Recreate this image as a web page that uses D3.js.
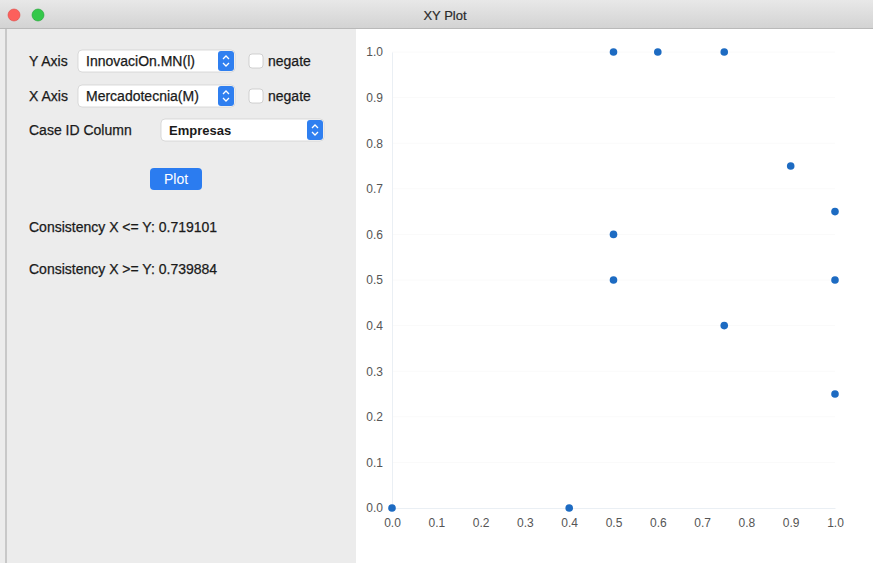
<!DOCTYPE html>
<html><head><meta charset="utf-8">
<script src="https://cdn.jsdelivr.net/npm/d3@7"></script>
<style>
html,body{margin:0;padding:0;background:#fff;overflow:hidden}
svg{display:block;font-family:"Liberation Sans",Arial,Helvetica,sans-serif}
</style></head>
<body>
<svg id="c" width="873" height="563"></svg>
<script>
// ---- data ----
const xValues = [0.0, 0.4, 0.5, 0.6, 0.75, 0.9, 1.0, 0.5, 0.5, 1.0, 0.75, 1.0];
const yValues = [0.0, 0.0, 1.0, 1.0, 1.0, 0.75, 0.65, 0.6, 0.5, 0.5, 0.4, 0.25];
const xTicks = [0.0,0.1,0.2,0.3,0.4,0.5,0.6,0.7,0.8,0.9,1.0];
const yTicks = [0.0,0.1,0.2,0.3,0.4,0.5,0.6,0.7,0.8,0.9,1.0];
const yAxisField = "InnovaciOn.MN(l)";
const xAxisField = "Mercadotecnia(M)";
const caseIdField = "Empresas";
const consistencyLabels = ["Consistency X <= Y: 0.719101", "Consistency X >= Y: 0.739884"];
const windowTitle = "XY Plot";

const svg = d3.select("#c");
const W = 873, H = 563;

svg.append("rect").attr("x",0).attr("y",0).attr("width",W).attr("height",H).attr("fill","#ffffff");

// left panel
svg.append("rect").attr("x",0).attr("y",28).attr("width",356).attr("height",H-28).attr("fill","#ececec");
svg.append("rect").attr("x",5).attr("y",28).attr("width",2).attr("height",H-28).attr("fill","#c8c8c8");

// title bar
const grad = svg.append("defs").append("linearGradient").attr("id","tb").attr("x1",0).attr("y1",0).attr("x2",0).attr("y2",1);
grad.append("stop").attr("offset","0%").attr("stop-color","#e8e8e8");
grad.append("stop").attr("offset","100%").attr("stop-color","#d3d3d3");
svg.append("rect").attr("x",0).attr("y",0).attr("width",W).attr("height",28).attr("fill","url(#tb)");
svg.append("line").attr("x1",0).attr("x2",W).attr("y1",28.5).attr("y2",28.5).attr("stroke","#b9b9b9");
svg.append("circle").attr("cx",14).attr("cy",15).attr("r",6).attr("fill","#fc605c").attr("stroke","#de4a46").attr("stroke-width",0.6);
svg.append("circle").attr("cx",38).attr("cy",15).attr("r",6).attr("fill","#34c84a").attr("stroke","#22a336").attr("stroke-width",0.6);
svg.append("text").attr("x",445).attr("y",20).attr("text-anchor","middle").attr("font-size",13)
  .attr("fill","#2a2a2a").attr("stroke","#2a2a2a").attr("stroke-width",0.2).text(windowTitle);

// controls
const labelStyle = s => s.attr("font-size",14).attr("fill","#1a1a1a").attr("stroke","#1a1a1a").attr("stroke-width",0.25);
function popup(x,y,w,h,txt,bold){
  const g = svg.append("g");
  g.append("rect").attr("x",x).attr("y",y).attr("width",w).attr("height",h).attr("rx",4)
    .attr("fill","#ffffff").attr("stroke","#d2d2d2").attr("stroke-width",0.8);
  g.append("rect").attr("x",x+w-17).attr("y",y+1).attr("width",16).attr("height",h-2).attr("rx",3).attr("fill","#2f7ff0");
  const cx = x+w-9, cy = y+h/2;
  g.append("path").attr("d",`M${cx-3},${cy-2} L${cx},${cy-5} L${cx+3},${cy-2} M${cx-3},${cy+2} L${cx},${cy+5} L${cx+3},${cy+2}`)
    .attr("fill","none").attr("stroke","#fff").attr("stroke-width",1.3);
  const t = g.append("text").attr("x",x+8).attr("y",y+h/2+5).attr("font-size",bold?13:14).attr("fill","#1a1a1a")
    .attr("font-weight",bold?"bold":"normal").text(txt);
  if(!bold) t.attr("stroke","#1a1a1a").attr("stroke-width",0.25);
}
function checkbox(x,y,lbl){
  svg.append("rect").attr("x",x).attr("y",y).attr("width",14).attr("height",14).attr("rx",3)
    .attr("fill","#fff").attr("stroke","#c6c6c6").attr("stroke-width",0.8);
  labelStyle(svg.append("text").attr("x",x+19).attr("y",y+12)).text(lbl);
}
labelStyle(svg.append("text").attr("x",29).attr("y",66)).text("Y Axis");
popup(78,50,157,22,yAxisField,false);
checkbox(249,54,"negate");
labelStyle(svg.append("text").attr("x",29).attr("y",101)).text("X Axis");
popup(78,85,157,22,xAxisField,false);
checkbox(249,89,"negate");
labelStyle(svg.append("text").attr("x",29).attr("y",135)).text("Case ID Column");
popup(161,119,163,22,caseIdField,true);
svg.append("rect").attr("x",150).attr("y",168).attr("width",52).attr("height",22).attr("rx",4).attr("fill","#2b7cf0");
svg.append("text").attr("x",176).attr("y",184).attr("text-anchor","middle").attr("font-size",14).attr("fill","#fff").text("Plot");
consistencyLabels.forEach((t,i)=>{
  labelStyle(svg.append("text").attr("x",29).attr("y",232+i*42)).text(t);
});

// plot
const x = d3.scaleLinear().domain([0,1]).range([392,835]);
const y = d3.scaleLinear().domain([0,1]).range([508,52]);
const plot = svg.append("g");

plot.append("g").selectAll("line").data(yTicks.filter(d=>d>0)).join("line")
  .attr("x1",x(0)).attr("x2",x(1)).attr("y1",d=>y(d)).attr("y2",d=>y(d))
  .attr("stroke","#fafafa").attr("stroke-width",1);

const xAxis = d3.axisBottom(x).tickValues(xTicks).tickFormat(d3.format(".1f")).tickSize(0).tickPadding(10);
const yAxis = d3.axisLeft(y).tickValues(yTicks).tickFormat(d3.format(".1f")).tickSize(0).tickPadding(9);
const gx = plot.append("g").attr("transform",`translate(0,${y(0)})`).call(xAxis);
const gy = plot.append("g").attr("transform",`translate(${x(0)},0)`).call(yAxis);
[gx,gy].forEach(g=>{
  g.select(".domain").attr("stroke","#eaeff4").attr("stroke-width",1);
  g.selectAll("text").attr("font-size",12).attr("fill","#555").attr("font-family","Liberation Sans, Arial, sans-serif");
});
gx.selectAll("text").attr("dy","0.71em");

plot.append("g").selectAll("circle").data(xValues.map((v,i)=>[v,yValues[i]])).join("circle")
  .attr("cx",d=>x(d[0])).attr("cy",d=>y(d[1])).attr("r",3.8).attr("fill","#1d6bc2");
</script>
</body></html>
